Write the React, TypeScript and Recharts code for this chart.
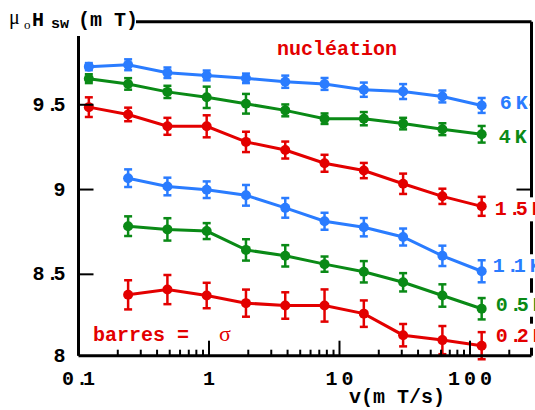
import React from 'react';
import { LineChart, Line, XAxis, YAxis, ErrorBar, LabelList } from 'recharts';

// sweep rate v (mT/s)
const RATES = [0.12, 0.24, 0.48, 0.96, 1.92, 3.84, 7.68, 15.36, 30.72, 61.44, 122.88];

// switching field mu0 Hsw (mT) and sigma
const H_6K = [9.725, 9.736, 9.689, 9.673, 9.656, 9.636, 9.623, 9.589, 9.578, 9.549, 9.496];
const ERR_6K = [0.021, 0.032, 0.031, 0.029, 0.028, 0.036, 0.035, 0.042, 0.044, 0.035, 0.044];
const H_4K = [9.654, 9.623, 9.576, 9.544, 9.506, 9.467, 9.418, 9.418, 9.389, 9.356, 9.326];
const ERR_4K = [0.026, 0.034, 0.036, 0.063, 0.058, 0.035, 0.031, 0.039, 0.034, 0.035, 0.049];
const H_15K = [9.486, 9.443, 9.373, 9.373, 9.281, 9.233, 9.155, 9.112, 9.034, 8.96, 8.901];
const ERR_15K = [0.058, 0.04, 0.05, 0.065, 0.06, 0.05, 0.05, 0.045, 0.06, 0.045, 0.056];
const H_11K = [9.067, 9.018, 8.999, 8.966, 8.892, 8.813, 8.778, 8.72, 8.609, 8.518];
const ERR_11K = [0.052, 0.052, 0.049, 0.061, 0.058, 0.05, 0.054, 0.05, 0.06, 0.065];
const H_05K = [8.784, 8.765, 8.755, 8.644, 8.609, 8.56, 8.515, 8.453, 8.375, 8.297];
const ERR_05K = [0.058, 0.066, 0.047, 0.063, 0.063, 0.045, 0.063, 0.054, 0.066, 0.063];
const H_02K = [8.379, 8.41, 8.375, 8.33, 8.316, 8.316, 8.268, 8.141, 8.112, 8.079];
const ERR_02K = [0.086, 0.086, 0.075, 0.08, 0.078, 0.095, 0.078, 0.066, 0.083, 0.08];

const SERIES_NAMES = ['6K', '4K', '1.5K', '1.1K', '0.5K', '0.2K'];

const X_DOMAIN = [0.1, 296];
const Y_DOMAIN = [8.02, 9.99];
const X_TICKS = [0.1, 0.2, 0.3, 0.4, 0.5, 0.6, 0.7, 0.8, 0.9, 1, 2, 3, 4, 5, 6, 7, 8, 9, 10, 20, 30, 40, 50, 60, 70, 80, 90, 100, 200];
const X_MAJOR = [0.1, 1, 10, 100];
const X_MAJOR_LABELS = ['0.1', '1', '10', '100'];
const Y_TICKS = [8.02, 8.5, 9, 9.5];
const Y_TICK_LABELS = ['8', '8.5', '9', '9.5'];

const BLUE = '#2a7cff';
const GREEN = '#0a8a16';
const RED = '#e30000';

const FONT = '"Liberation Mono", "Courier New", monospace';
const SERIF = '"Liberation Serif", "DejaVu Serif", serif';

const build = (xs: number[], ys: number[], es: number[]) => ys.map((h, i) => ({ v: xs[i], h, e: es[i] }));

const SERIES = [
  { name: SERIES_NAMES[0], color: BLUE, data: build(RATES, H_6K, ERR_6K), dx: 24, dy: 4 },
  { name: SERIES_NAMES[1], color: GREEN, data: build(RATES, H_4K, ERR_4K), dx: 23, dy: 9 },
  { name: SERIES_NAMES[2], color: RED, data: build(RATES, H_15K, ERR_15K), dx: 19, dy: 9 },
  { name: SERIES_NAMES[3], color: BLUE, data: build(RATES.slice(1), H_11K, ERR_11K), dx: 17, dy: 1 },
  { name: SERIES_NAMES[4], color: GREEN, data: build(RATES.slice(1), H_05K, ERR_05K), dx: 20, dy: 2 },
  { name: SERIES_NAMES[5], color: RED, data: build(RATES.slice(1), H_02K, ERR_02K), dx: 20, dy: -4 },
];

function centers(text: string) {
  const c = [0];
  for (let i = 1; i < text.length; i++) {
    const cur = text[i];
    const prev = text[i - 1];
    const step = cur === '.' ? 14 : prev === '.' ? 7 : 16;
    c.push(c[i - 1] + step);
  }
  return c;
}

function SpacedText({ x, y, text, anchor, fill }: { x: number; y: number; text: string; anchor: string; fill: string }) {
  const c = centers(text);
  const first = c[0] - 6;
  const last = c[c.length - 1] + 6;
  const off = anchor === 'middle' ? x - (c[0] + c[c.length - 1]) / 2 : anchor === 'end' ? x - last : x - first;
  return (
    <text y={y} fill={fill} fontFamily={FONT} fontWeight="bold" fontSize={20} textAnchor="middle">
      {text.split('').map((ch, i) => (
        <tspan key={i} x={c[i] + off}>{ch}</tspan>
      ))}
    </text>
  );
}

const majorIndex = (v: number) => X_MAJOR.findIndex((m) => Math.abs(m - v) < 1e-9);

const BottomTick = (p: any) => {
  const { x, y, payload } = p;
  const idx = majorIndex(payload.value);
  const major = idx >= 0;
  return (
    <g>
      <line x1={x} x2={x} y1={y} y2={y - (major ? 15 : 6)} stroke="#000" strokeWidth={2} />
      {major && <SpacedText x={x} y={y + 29.5} text={X_MAJOR_LABELS[idx]} anchor="middle" fill="#000" />}
    </g>
  );
};

const TopTick = (p: any) => {
  const { x, y, payload } = p;
  const major = majorIndex(payload.value) >= 0;
  return <line x1={x} x2={x} y1={y} y2={y + (major ? 15 : 6)} stroke="#000" strokeWidth={2} />;
};

const LeftTick = (p: any) => {
  const { x, y, payload } = p;
  const idx = Y_TICKS.indexOf(payload.value);
  return (
    <g>
      {idx > 0 && <line x1={x} x2={x + 15} y1={y} y2={y} stroke="#000" strokeWidth={2} />}
      <SpacedText x={x - 13} y={y + 6} text={Y_TICK_LABELS[idx]} anchor="end" fill="#000" />
    </g>
  );
};

const RightTick = (p: any) => {
  const { x, y, payload } = p;
  const idx = Y_TICKS.indexOf(payload.value);
  if (idx <= 0) return <g />;
  return <line x1={x} x2={x - 15} y1={y} y2={y} stroke="#000" strokeWidth={2} />;
};

const makeLabel = (name: string, color: string, n: number, dx: number, dy: number) => (props: any) => {
  if (props.index !== n - 1) return null;
  const px = props.x ?? props.viewBox?.x;
  const py = props.y ?? props.viewBox?.y;
  const c = centers(name);
  const fx = px + dx;
  const by = py + dy;
  return (
    <g>
      <rect x={fx - 8} y={by - 18} width={c[c.length - 1] + 16} height={24} fill="#fff" />
      <SpacedText x={fx - 6} y={by} text={name} anchor="start" fill={color} />
    </g>
  );
};

export default function App() {
  return (
    <div style={{ position: 'absolute', left: 0, top: 0, width: 535, height: 410, background: '#fff' }}>
      <LineChart width={535} height={410} margin={{ top: 0, right: 0, bottom: 0, left: 0 }}>
        <XAxis
          xAxisId="b"
          dataKey="v"
          type="number"
          scale="log"
          domain={X_DOMAIN}
          ticks={X_TICKS}
          interval={0}
          height={54.3}
          orientation="bottom"
          tickLine={false}
          tickSize={0}
          tickMargin={0}
          tick={<BottomTick />}
          axisLine={{ stroke: '#000', strokeWidth: 3 }}
        />
        <XAxis
          xAxisId="t"
          dataKey="v"
          type="number"
          scale="log"
          domain={X_DOMAIN}
          ticks={X_TICKS}
          interval={0}
          height={21.7}
          orientation="top"
          tickLine={false}
          tickSize={0}
          tickMargin={0}
          tick={<TopTick />}
          axisLine={{ stroke: '#000', strokeWidth: 3 }}
        />
        <YAxis
          yAxisId="l"
          type="number"
          domain={Y_DOMAIN}
          allowDataOverflow
          ticks={Y_TICKS}
          interval={0}
          width={78.5}
          orientation="left"
          tickLine={false}
          tickSize={0}
          tickMargin={0}
          tick={<LeftTick />}
          axisLine={{ stroke: '#000', strokeWidth: 3 }}
        />
        <YAxis
          yAxisId="r"
          type="number"
          domain={Y_DOMAIN}
          allowDataOverflow
          ticks={Y_TICKS}
          interval={0}
          width={3.5}
          orientation="right"
          tickLine={false}
          tickSize={0}
          tickMargin={0}
          tick={<RightTick />}
          axisLine={{ stroke: '#000', strokeWidth: 3 }}
        />
        {SERIES.map((s) => (
          <Line
            key={s.name}
            xAxisId="b"
            yAxisId="l"
            data={s.data}
            dataKey="h"
            type="linear"
            stroke={s.color}
            strokeWidth={3}
            dot={{ r: 5, fill: s.color, stroke: s.color, strokeWidth: 0 }}
            activeDot={false}
            isAnimationActive={false}
          >
            <ErrorBar dataKey="e" width={4} strokeWidth={2.5} stroke={s.color} direction="y" isAnimationActive={false} />
            <LabelList dataKey="h" content={makeLabel(s.name, s.color, s.data.length, s.dx, s.dy)} />
          </Line>
        ))}
      </LineChart>
      <svg width={535} height={410} style={{ position: 'absolute', left: 0, top: 0, pointerEvents: 'none' }}>
        <rect x={0} y={0} width={136} height={36} fill="#fff" />
        <text x={9} y={24} fontFamily={SERIF} fontSize={20} fill="#000">μ</text>
        <text x={24} y={29} fontFamily={SERIF} fontSize={13} fill="#000">o</text>
        <text x={32} y={26} fontFamily={FONT} fontWeight="bold" fontSize={20} fill="#000">H</text>
        <text x={51} y={28} fontFamily={FONT} fontWeight="bold" fontSize={15} fill="#000">sw</text>
        <text x={78} y={26} fontFamily={FONT} fontWeight="bold" fontSize={20} fill="#000" style={{ whiteSpace: 'pre' }}>(m T)</text>
        <text x={277} y={55} fontFamily={FONT} fontWeight="bold" fontSize={20} fill={RED}>nucléation</text>
        <text x={93} y={341} fontFamily={FONT} fontWeight="bold" fontSize={20} fill={RED} style={{ whiteSpace: 'pre' }}>barres =</text>
        <text x={219} y={341} fontFamily={SERIF} fontSize={22} fill={RED}>σ</text>
        <text x={349} y={403} fontFamily={FONT} fontWeight="bold" fontSize={20} fill="#000" style={{ whiteSpace: 'pre' }}>v(m T/s)</text>
      </svg>
    </div>
  );
}
